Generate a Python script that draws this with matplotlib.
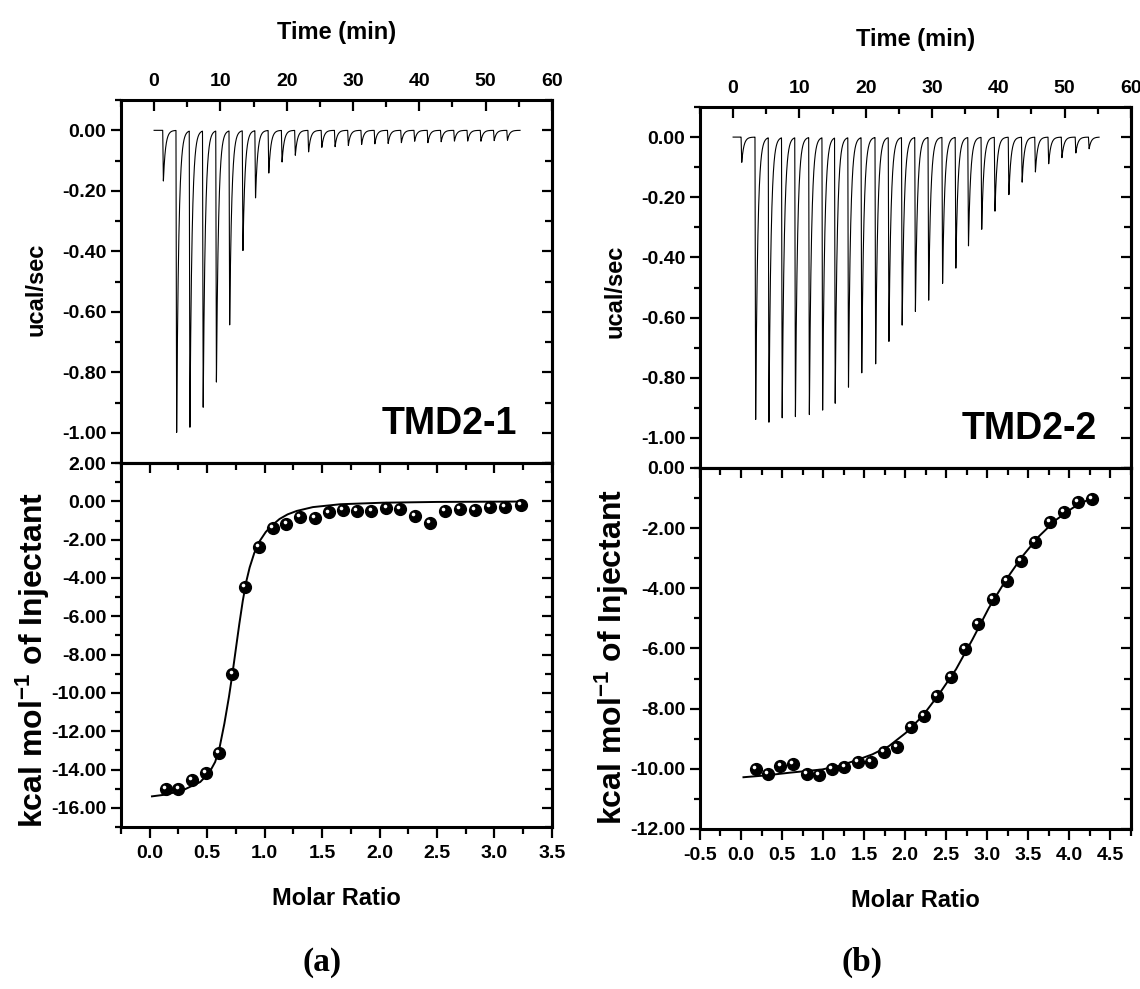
import numpy as np
import matplotlib
matplotlib.use("Agg")
import matplotlib.pyplot as plt
from matplotlib.ticker import MultipleLocator, FormatStrFormatter
from matplotlib.transforms import offset_copy

plt.rcParams["font.family"] = ["Liberation Sans", "DejaVu Sans"]
plt.rcParams["font.weight"] = "bold"
plt.rcParams["axes.labelweight"] = "bold"
plt.rcParams["mathtext.fontset"] = "custom"
plt.rcParams["mathtext.rm"] = "Liberation Sans:bold"
plt.rcParams["mathtext.bf"] = "Liberation Sans:bold"
plt.rcParams["mathtext.default"] = "bf"

# ---- raw heat (injection peaks) ----
inj_time_1 = [1.3, 3.3, 5.3, 7.3, 9.3, 11.3, 13.3, 15.2, 17.2, 19.2, 21.2, 23.2, 25.2,
              27.2, 29.2, 31.2, 33.2, 35.2, 37.2, 39.2, 41.2, 43.2, 45.2, 47.2, 49.2,
              51.2, 53.2]
inj_depth_1 = [0.168, 1.005, 0.99, 0.927, 0.839, 0.642, 0.398, 0.224, 0.141, 0.105,
               0.083, 0.072, 0.057, 0.054, 0.050, 0.047, 0.045, 0.044, 0.041, 0.036,
               0.041, 0.038, 0.036, 0.036, 0.036, 0.034, 0.033]

inj_time_2 = [1.2, 3.3, 5.3, 7.3, 9.3, 11.4, 13.4, 15.3, 17.3, 19.3, 21.4, 23.4, 25.4,
              27.4, 29.4, 31.5, 33.5, 35.4, 37.4, 39.4, 41.5, 43.5, 45.5, 47.5, 49.5,
              51.6, 53.6]
inj_depth_2 = [0.085, 0.945, 0.956, 0.945, 0.937, 0.932, 0.920, 0.890, 0.840, 0.795,
               0.760, 0.687, 0.632, 0.579, 0.543, 0.490, 0.435, 0.366, 0.308, 0.246,
               0.194, 0.150, 0.116, 0.089, 0.069, 0.053, 0.039]

# ---- integrated heats ----
ratio_1 = [0.14, 0.25, 0.37, 0.49, 0.60, 0.72, 0.83, 0.95, 1.07, 1.19, 1.31, 1.44, 1.56,
           1.68, 1.80, 1.93, 2.06, 2.18, 2.31, 2.44, 2.57, 2.70, 2.83, 2.96, 3.09, 3.23]
heat_1 = [-15.03, -15.03, -14.56, -14.18, -13.13, -9.02, -4.48, -2.38, -1.40, -1.17,
          -0.82, -0.87, -0.58, -0.47, -0.51, -0.49, -0.35, -0.40, -0.75, -1.15, -0.49,
          -0.40, -0.45, -0.30, -0.30, -0.17]
fit_x_1 = [0.02, 0.15, 0.30, 0.44, 0.52, 0.57, 0.61, 0.65, 0.69, 0.72, 0.75, 0.78, 0.81,
           0.84, 0.87, 0.91, 0.96, 1.01, 1.06, 1.13, 1.20, 1.28, 1.42, 1.66, 2.03, 2.50,
           3.23]
fit_y_1 = [-15.40, -15.30, -15.05, -14.65, -14.15, -13.60, -12.80, -11.60, -10.20, -9.00,
           -7.70, -6.40, -5.20, -4.20, -3.45, -2.70, -2.05, -1.60, -1.28, -0.92, -0.68,
           -0.50, -0.30, -0.15, -0.07, -0.03, -0.01]

ratio_2 = [0.18, 0.33, 0.48, 0.63, 0.80, 0.95, 1.11, 1.26, 1.42, 1.58, 1.74, 1.90, 2.07,
           2.23, 2.39, 2.56, 2.73, 2.89, 3.07, 3.24, 3.41, 3.58, 3.76, 3.93, 4.10, 4.28]
heat_2 = [-10.02, -10.17, -9.89, -9.83, -10.17, -10.19, -10.02, -9.94, -9.77, -9.78,
          -9.44, -9.27, -8.60, -8.23, -7.59, -6.94, -6.01, -5.18, -4.35, -3.74, -3.10,
          -2.47, -1.80, -1.47, -1.14, -1.03]
fit_x_2 = [0.03, 0.30, 0.59, 0.99, 1.20, 1.40, 1.60, 1.80, 2.01, 2.21, 2.41, 2.62, 2.82,
           3.02, 3.23, 3.43, 3.63, 3.84, 4.04, 4.28]
fit_y_2 = [-10.28, -10.22, -10.13, -10.02, -9.90, -9.72, -9.52, -9.25, -8.80, -8.25, -7.53,
           -6.69, -5.70, -4.65, -3.71, -2.93, -2.27, -1.72, -1.33, -0.98]

panel_names = ["TMD2-1", "TMD2-2"]
panel_tags = ["(a)", "(b)"]


def thermogram(times, depths, t_end=55.2):
    t = np.linspace(0, t_end, 8000)
    y = np.zeros_like(t)
    for t0, d in zip(times, depths):
        dt = t - t0
        drop = (dt >= 0) & (dt < 0.1)
        y[drop] -= d * dt[drop] / 0.1
        rec = dt >= 0.1
        y[rec] -= d * np.exp(-(dt[rec] - 0.1) / 0.32)
    return t, y


def style_axes(ax):
    for s in ax.spines.values():
        s.set_linewidth(2.2)


def right_ticks(ax, major, minor):
    sec = ax.secondary_yaxis("right")
    sec.yaxis.set_major_locator(MultipleLocator(major))
    sec.yaxis.set_minor_locator(MultipleLocator(minor))
    sec.tick_params(which="both", direction="in", labelright=False, width=1.6)
    sec.tick_params(which="major", length=7)
    sec.tick_params(which="minor", length=5)
    sec.spines["right"].set_linewidth(2.2)


fig = plt.figure(figsize=(11.4, 9.89), dpi=100)

boxes = [
    ([0.1061, 0.5318, 0.378, 0.367], [0.1061, 0.1638, 0.378, 0.368]),
    ([0.6140, 0.5268, 0.378, 0.365], [0.6140, 0.1618, 0.378, 0.365]),
]
thermo = [(inj_time_1, inj_depth_1), (inj_time_2, inj_depth_2)]
heats = [(ratio_1, heat_1, fit_x_1, fit_y_1), (ratio_2, heat_2, fit_x_2, fit_y_2)]
bottom_ylims = [(-17, 2), (-12, 0)]
bottom_xlims = [(-0.25, 3.5), (-0.5, 4.75)]
ucal_y = [0.48, 0.49]
kcal_y = [0.46, 0.475]

for i in range(2):
    # top panel: raw thermogram
    ax = fig.add_axes(boxes[i][0])
    style_axes(ax)
    t, y = thermogram(*thermo[i])
    ax.plot(t, y, color="black", lw=0.8)
    ax.set_xlim(-5, 60)
    ax.set_ylim(-1.1, 0.1)
    ax.xaxis.set_major_locator(MultipleLocator(10))
    ax.xaxis.set_minor_locator(MultipleLocator(5))
    ax.yaxis.set_major_locator(MultipleLocator(0.2))
    ax.yaxis.set_minor_locator(MultipleLocator(0.1))
    ax.yaxis.set_major_formatter(FormatStrFormatter("%.2f"))
    ax.xaxis.set_label_position("top")
    ax.tick_params(axis="x", which="both", top=True, bottom=False, labeltop=True,
                   labelbottom=False, direction="in", width=1.6, labelsize=14, pad=7)
    ax.tick_params(axis="x", which="major", length=8)
    ax.tick_params(axis="x", which="minor", length=5)
    ax.tick_params(axis="y", which="both", direction="out", right=False, width=1.6,
                   labelsize=14, pad=3.5)
    ax.tick_params(axis="y", which="major", length=7)
    ax.tick_params(axis="y", which="minor", length=4)
    right_ticks(ax, 0.2, 0.1)
    ax.set_xlabel("Time (min)", fontsize=17, labelpad=25)
    ax.set_ylabel("ucal/sec", fontsize=17)
    ax.yaxis.set_label_coords(-0.17, ucal_y[i])
    ax.text(0.92, 0.08, panel_names[i], transform=ax.transAxes, ha="right",
            va="baseline", fontsize=27)

    # bottom panel: integrated heats
    bx = fig.add_axes(boxes[i][1])
    style_axes(bx)
    rx, hy, fx, fy = heats[i]
    bx.plot(fx, fy, color="black", lw=1.4, zorder=2)
    bx.plot(rx, hy, "o", color="black", ms=8.5, zorder=3)
    hl = offset_copy(bx.transData, fig=fig, x=-1.3, y=1.4, units="points")
    bx.plot(rx, hy, "o", color="white", ms=2.6, mew=0, transform=hl, zorder=4)
    bx.set_xlim(*bottom_xlims[i])
    bx.set_ylim(*bottom_ylims[i])
    bx.xaxis.set_major_locator(MultipleLocator(0.5))
    bx.xaxis.set_minor_locator(MultipleLocator(0.25))
    bx.xaxis.set_major_formatter(FormatStrFormatter("%.1f"))
    bx.yaxis.set_major_locator(MultipleLocator(2))
    bx.yaxis.set_minor_locator(MultipleLocator(1))
    bx.yaxis.set_major_formatter(FormatStrFormatter("%.2f"))
    bx.tick_params(which="both", direction="out", top=False, right=False, width=1.6,
                   labelsize=14)
    bx.tick_params(axis="x", which="major", length=8, pad=5)
    bx.tick_params(axis="x", which="minor", length=5)
    bx.tick_params(axis="y", which="major", length=7, pad=3.5)
    bx.tick_params(axis="y", which="minor", length=4)
    sx = bx.secondary_xaxis("top")
    sx.xaxis.set_major_locator(MultipleLocator(0.5))
    sx.xaxis.set_minor_locator(MultipleLocator(0.25))
    sx.tick_params(which="both", direction="in", labeltop=False, width=1.6)
    sx.tick_params(which="major", length=7)
    sx.tick_params(which="minor", length=5)
    sx.spines["top"].set_linewidth(2.2)
    right_ticks(bx, 2, 1)
    bx.set_xlabel("Molar Ratio", fontsize=17, labelpad=18)
    bx.set_ylabel(r"kcal mol$^{-1}$ of Injectant", fontsize=23)
    bx.yaxis.set_label_coords(-0.16, kcal_y[i])

fig.text(0.2825, 0.027, panel_tags[0], family=["Liberation Serif", "DejaVu Serif"],
         fontsize=24, ha="center", va="center")
fig.text(0.756, 0.027, panel_tags[1], family=["Liberation Serif", "DejaVu Serif"],
         fontsize=24, ha="center", va="center")

fig.savefig("out.png", dpi=100)
